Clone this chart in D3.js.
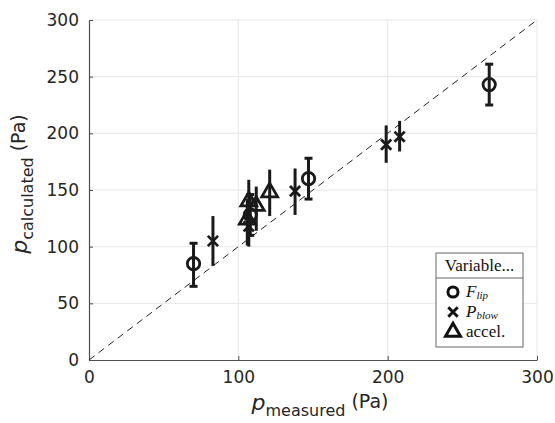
<!DOCTYPE html>
<html>
<head>
<meta charset="utf-8">
<script src="https://cdn.jsdelivr.net/npm/d3@7"></script>
<style>
  body { margin: 0; background: #fff; }
  text { font-family: "DejaVu Sans", sans-serif; fill: #262626; }
  .leg text { font-family: "Liberation Serif", "DejaVu Serif", serif; fill: #111; }
</style>
</head>
<body>
<svg id="chart" width="555" height="423"></svg>
<script>
'use strict';

// values: [measured, calculated, errLow, errHigh]
var flipPoints  = [[70, 85, 65, 103], [108, 128, 110, 146], [147, 160, 142, 178], [268, 243, 225, 261]];
var pblowPoints = [[83, 105, 83, 127], [107, 118, 100, 135], [138, 149, 128, 169], [199, 190, 174, 207], [208, 197, 184, 211]];
var accelPoints = [[106, 124, 101, 142], [107, 140, 120, 159], [112, 136, 114, 153], [121, 148, 127, 168]];
var xTicks = [0, 100, 200, 300];
var yTicks = [0, 50, 100, 150, 200, 250, 300];

var margin = {top: 20, right: 18, bottom: 63, left: 89};
var width = 555 - margin.left - margin.right,
    height = 423 - margin.top - margin.bottom;

var svg = d3.select('#chart');
var g = svg.append('g').attr('transform', 'translate(' + margin.left + ',' + margin.top + ')');

var x = d3.scaleLinear().domain([0, 300]).range([0, width]);
var y = d3.scaleLinear().domain([0, 300]).range([height, 0]);

// grid
g.selectAll('.gx').data(xTicks.slice(1)).enter().append('line')
  .attr('x1', function(d) { return x(d); }).attr('x2', function(d) { return x(d); })
  .attr('y1', 0).attr('y2', height)
  .style('stroke', '#e6e6e6').style('stroke-width', 1);
g.selectAll('.gy').data(yTicks.slice(1)).enter().append('line')
  .attr('y1', function(d) { return y(d); }).attr('y2', function(d) { return y(d); })
  .attr('x1', 0).attr('x2', width)
  .style('stroke', '#e6e6e6').style('stroke-width', 1);

// axes
var xAxis = g.append('g').attr('transform', 'translate(0,' + height + ')')
  .call(d3.axisBottom(x).tickValues(xTicks).tickSizeInner(-4).tickSizeOuter(0).tickPadding(8));
var yAxis = g.append('g')
  .call(d3.axisLeft(y).tickValues(yTicks).tickSizeInner(-4).tickSizeOuter(0).tickPadding(10));
[xAxis, yAxis].forEach(function(a) {
  a.select('.domain').style('stroke', '#4d4d4d').style('stroke-width', 1.2);
  a.selectAll('.tick line').style('stroke', '#4d4d4d');
  a.selectAll('.tick text').style('font-size', '17px').style('fill', '#262626');
});
xAxis.selectAll('.tick text').attr('dy', '0.9em');

// identity line
g.append('line')
  .attr('x1', x(0)).attr('y1', y(0)).attr('x2', x(300)).attr('y2', y(300))
  .style('stroke', '#222').style('stroke-width', 1).style('stroke-dasharray', '7,5');

// error bars
function errorBars(data, cap) {
  var eb = g.append('g');
  eb.selectAll('line.v').data(data).enter().append('line')
    .attr('x1', function(d) { return x(d[0]); }).attr('x2', function(d) { return x(d[0]); })
    .attr('y1', function(d) { return y(d[2]); }).attr('y2', function(d) { return y(d[3]); })
    .style('stroke', '#1a1a1a').style('stroke-width', 3);
  if (cap) {
    [2, 3].forEach(function(k) {
      eb.selectAll('line.c' + k).data(data).enter().append('line')
        .attr('x1', function(d) { return x(d[0]) - cap; }).attr('x2', function(d) { return x(d[0]) + cap; })
        .attr('y1', function(d) { return y(d[k]); }).attr('y2', function(d) { return y(d[k]); })
        .style('stroke', '#1a1a1a').style('stroke-width', 3);
    });
  }
}

var sym = {
  circle: d3.symbol().type(d3.symbolCircle).size(120),
  cross: d3.symbol().type(d3.symbolX).size(70),
  tri: d3.symbol().type(d3.symbolTriangle2).size(180)
};

function markers(data, path) {
  g.append('g').selectAll('path').data(data).enter().append('path')
    .attr('transform', function(d) { return 'translate(' + x(d[0]) + ',' + y(d[1]) + ')'; })
    .attr('d', path)
    .style('fill', 'none').style('stroke', '#1a1a1a').style('stroke-width', 2.8);
}

errorBars(accelPoints, 0);
markers(accelPoints, sym.tri());
errorBars(pblowPoints, 0);
markers(pblowPoints, sym.cross());
errorBars(flipPoints, 4);
markers(flipPoints, sym.circle());

// axis labels
var xl = svg.append('text').attr('x', 320).attr('y', 410).attr('text-anchor', 'middle').style('font-size', '18px');
xl.append('tspan').text('p').style('font-style', 'italic').style('font-size', '22px');
xl.append('tspan').text('measured').attr('dy', 6).style('font-size', '16px');
xl.append('tspan').text('\u00a0(Pa)').attr('dy', -8).style('font-size', '19px');

var yl = svg.append('text').attr('transform', 'translate(27,184) rotate(-90)').attr('text-anchor', 'middle').style('font-size', '18px');
yl.append('tspan').text('p').style('font-style', 'italic').style('font-size', '22px');
yl.append('tspan').text('calculated').attr('dy', 6).style('font-size', '16px');
yl.append('tspan').text('\u00a0(Pa)').attr('dy', -8).style('font-size', '19px');

// legend
var legendLabels = ['F', 'P', 'accel.'];
var legendSubs = ['lip', 'blow', ''];
var leg = svg.append('g').attr('class', 'leg').attr('transform', 'translate(436,253)');
leg.append('rect').attr('width', 87).attr('height', 94)
  .style('fill', '#fff').style('stroke', '#666').style('stroke-width', 1);
leg.append('line').attr('x1', 0).attr('x2', 87).attr('y1', 25).attr('y2', 25)
  .style('stroke', '#666').style('stroke-width', 1);
leg.append('text').attr('x', 43.5).attr('y', 18).attr('text-anchor', 'middle')
  .style('font-size', '17px').text('Variable...');
var legSyms = [sym.circle.size(80)(), sym.cross.size(60)(), sym.tri.size(160)()];
legendLabels.forEach(function(lab, i) {
  var yy = 39 + i * 20;
  leg.append('path').attr('transform', 'translate(17,' + yy + ')').attr('d', legSyms[i])
    .style('fill', 'none').style('stroke', '#111').style('stroke-width', 3);
  var t = leg.append('text').attr('x', 30).attr('y', yy + 5).style('font-size', '17px');
  if (legendSubs[i]) {
    t.append('tspan').text(lab).style('font-style', 'italic');
    t.append('tspan').text(legendSubs[i]).style('font-style', 'italic').style('font-size', '11px').attr('dy', 2);
  } else {
    t.text(lab);
  }
});
</script>
</body>
</html>
